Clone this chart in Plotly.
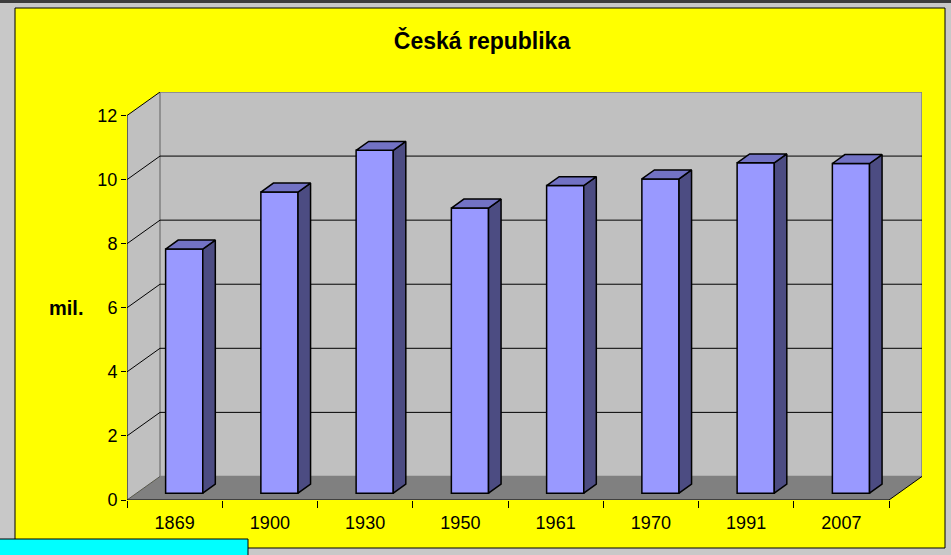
import plotly.graph_objects as go

# ---- data ----
years = ["1869", "1900", "1930", "1950", "1961", "1970", "1991", "2007"]
population = [7.62, 9.40, 10.70, 8.90, 9.60, 9.81, 10.31, 10.29]
y_ticks = [0, 2, 4, 6, 8, 10, 12]
title_text = "Česká republika"
y_label = "mil."

# ---- geometry / style ----
W, H = 951, 555
L, R, T, B = 127, 29, 92, 55
DX, DY = 0.3465, 0.735          # full depth of the 3D box in data units
F1, F2 = 0.29, 0.67              # bar front / back depth fractions
BW = 0.39                        # bar width in category units
n = len(years)
ymax_tick = max(y_ticks)
FRONT, TOP, SIDE = "#9999FF", "#7272C4", "#4C4C82"
WALL, FLOOR = "#C0C0C0", "#808080"
FONT = "Arial, Liberation Sans, sans-serif"

def pxx(px):
    return (px - L) / (W - L - R)

def pyy(py):
    return (H - B - py) / (H - T - B)

shapes = []
# window background pieces
shapes.append(dict(type="rect", xref="paper", yref="paper", x0=pxx(-5), x1=pxx(960), y0=pyy(3), y1=pyy(-5),
                   fillcolor="#3c3c3c", line=dict(width=0), layer="below"))
shapes.append(dict(type="rect", xref="paper", yref="paper", x0=pxx(15), x1=pxx(945), y0=pyy(548), y1=pyy(8),
                   fillcolor="#FFFF00", line=dict(color="black", width=1), layer="below"))
# side wall
shapes.append(dict(type="path", xref="x", yref="y",
                   path=f"M 0,0 L {DX},{DY} L {DX},{ymax_tick+DY} L 0,{ymax_tick} Z",
                   fillcolor=WALL, line=dict(width=0), layer="below"))
# back wall
shapes.append(dict(type="rect", xref="x", yref="y", x0=DX, x1=n + DX, y0=DY, y1=ymax_tick + DY,
                   fillcolor=WALL, line=dict(color="#808080", width=1.5), layer="below"))
# floor
shapes.append(dict(type="path", xref="x", yref="y",
                   path=f"M 0,0 L {n},0 L {n+DX},{DY} L {DX},{DY} Z",
                   fillcolor=FLOOR, line=dict(width=0), layer="below"))
shapes.append(dict(type="line", xref="x", yref="y", x0=n, y0=0, x1=n + DX, y1=DY,
                   line=dict(color="black", width=1), layer="below"))
shapes.append(dict(type="line", xref="x", yref="y", x0=0, y0=0, x1=DX, y1=DY,
                   line=dict(color="#555555", width=1), layer="below"))
# gridlines
for v in y_ticks[1:]:
    if v < ymax_tick:
        shapes.append(dict(type="line", xref="x", yref="y", x0=DX, y0=v + DY, x1=n + DX, y1=v + DY,
                           line=dict(color="black", width=1), layer="below"))
    shapes.append(dict(type="line", xref="x", yref="y", x0=0, y0=v, x1=DX, y1=v + DY,
                       line=dict(color="black", width=1), layer="below"))
# cyan box bottom-left
shapes.append(dict(type="rect", xref="paper", yref="paper", x0=pxx(-3), x1=pxx(248), y0=pyy(560), y1=pyy(539),
                   fillcolor="#00FFFF", line=dict(color="black", width=1)))

fig = go.Figure()

xf = [i + 0.5 + F1 * DX for i in range(n)]
base = F1 * DY
fig.add_trace(go.Bar(x=xf, y=population, base=base, width=BW,
                     marker=dict(color=FRONT, line=dict(color="black", width=1.5)),
                     hoverinfo="skip", showlegend=False))

ddx, ddy = (F2 - F1) * DX, (F2 - F1) * DY
tx, ty, sx, sy = [], [], [], []
for c, v in zip(xf, population):
    xl, xr = c - BW / 2, c + BW / 2
    yb, yt = base, base + v
    tx += [xl, xr, xr + ddx, xl + ddx, xl, None]
    ty += [yt, yt, yt + ddy, yt + ddy, yt, None]
    sx += [xr, xr + ddx, xr + ddx, xr, xr, None]
    sy += [yb, yb + ddy, yt + ddy, yt, yb, None]
fig.add_trace(go.Scatter(x=sx, y=sy, mode="lines", fill="toself", fillcolor=SIDE,
                         line=dict(color="black", width=1.5), hoverinfo="skip", showlegend=False))
fig.add_trace(go.Scatter(x=tx, y=ty, mode="lines", fill="toself", fillcolor=TOP,
                         line=dict(color="black", width=1.5), hoverinfo="skip", showlegend=False))
# axis lines
fig.add_trace(go.Scatter(x=[0, 0, None, 0, n], y=[0, ymax_tick, None, 0, 0], mode="lines",
                         line=dict(color="black", width=1), cliponaxis=False,
                         hoverinfo="skip", showlegend=False))

fig.update_layout(
    width=W, height=H, autosize=False,
    margin=dict(l=L, r=R, t=T, b=B),
    paper_bgcolor="#C8C8C8", plot_bgcolor="rgba(0,0,0,0)",
    font=dict(family=FONT, size=18, color="black"),
    title=dict(text=f"<b>{title_text}</b>", x=482 / W, y=1 - 41 / H, xanchor="center", yanchor="middle",
               font=dict(family=FONT, size=23, color="black")),
    shapes=shapes,
    xaxis=dict(range=[0, n + DX], showgrid=False, zeroline=False, showline=False,
               tickmode="array", tickvals=[i + 0.5 for i in range(n)], ticktext=years, ticks="",
               ticklabelstandoff=10,
               minor=dict(tickmode="array", tickvals=list(range(n + 1)), ticks="outside", ticklen=7,
                          tickcolor="black", tickwidth=1, showgrid=False)),
    yaxis=dict(range=[0, ymax_tick + DY], showgrid=False, zeroline=False, showline=False,
               tickmode="array", tickvals=y_ticks, ticks="outside", ticklen=5, tickcolor="black"),
    annotations=[dict(text=f"<b>{y_label}</b>", xref="paper", yref="paper", x=pxx(65.5), y=pyy(308),
                      showarrow=False, xanchor="center", yanchor="middle",
                      font=dict(family=FONT, size=20, color="black"))],
)

fig.write_html("out.html", config={"displayModeBar": False},
               post_script="document.body.style.margin='0px';")
